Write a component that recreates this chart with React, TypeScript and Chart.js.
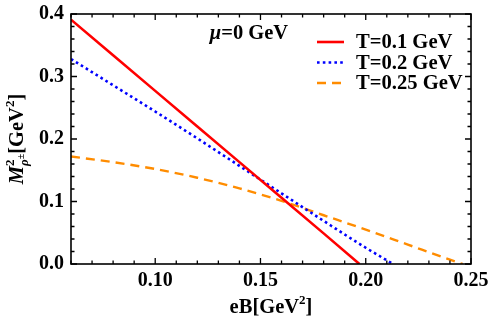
import { useEffect, useRef } from "react";
import { Chart, registerables } from "chart.js";
Chart.register(...registerables);

const EB_RED = [0.06, 0.08, 0.10, 0.12, 0.14, 0.16, 0.18, 0.197];
const M_RED = [0.391, 0.334, 0.277, 0.220, 0.163, 0.106, 0.049, 0];
const EB_BLUE = [0.06, 0.08, 0.10, 0.12, 0.14, 0.16, 0.18, 0.20, 0.213];
const M_BLUE = [0.328, 0.286, 0.244, 0.201, 0.157, 0.113, 0.069, 0.026, 0];
const EB_ORANGE = [0.06, 0.08, 0.10, 0.12, 0.14, 0.16, 0.18, 0.20, 0.22, 0.24, 0.246];
const M_ORANGE = [0.172, 0.163, 0.152, 0.138, 0.121, 0.101, 0.078, 0.055, 0.031, 0.007, 0];
const X_TICKS = [0.10, 0.15, 0.20, 0.25];
const Y_TICKS = [0, 0.1, 0.2, 0.3, 0.4];
const SERIES_LABELS = ["T=0.1 GeV", "T=0.2 GeV", "T=0.25 GeV"];

const FAMILY = '"Liberation Serif", "Times New Roman", serif';
const F = (size: number, italic = false) => `${italic ? "italic " : ""}bold ${size}px ${FAMILY}`;

type Part = { t: string; font: string; dy?: number };

function drawRich(ctx: CanvasRenderingContext2D, parts: Part[][], x: number, y: number) {
  const widths = parts.map((g) =>
    Math.max(...g.map((p) => { ctx.font = p.font; return ctx.measureText(p.t).width; }))
  );
  const total = widths.reduce((a, b) => a + b, 0);
  let cx = x - total / 2;
  ctx.textBaseline = "alphabetic";
  ctx.textAlign = "left";
  parts.forEach((g, i) => {
    g.forEach((p) => {
      ctx.font = p.font;
      ctx.fillText(p.t, cx, y + (p.dy || 0));
    });
    cx += widths[i];
  });
}

const decorPlugin = {
  id: "decor",
  afterDatasetsDraw(chart: any) {
    const ctx: CanvasRenderingContext2D = chart.ctx;
    const { left, right, top, bottom } = chart.chartArea;
    const xs = chart.scales.x;
    const ys = chart.scales.y;
    ctx.save();
    ctx.strokeStyle = "#000";
    ctx.fillStyle = "#000";
    ctx.lineWidth = 1.6;
    ctx.strokeRect(left, top, right - left, bottom - top);
    ctx.lineWidth = 1.3;
    for (let i = 6; i <= 25; i++) {
      const px = xs.getPixelForValue(i / 100);
      const len = i % 5 === 0 ? 6 : 3.5;
      ctx.beginPath();
      ctx.moveTo(px, bottom); ctx.lineTo(px, bottom - len);
      ctx.moveTo(px, top); ctx.lineTo(px, top + len);
      ctx.stroke();
    }
    for (let i = 0; i <= 20; i++) {
      const py = ys.getPixelForValue(i / 50);
      const len = i % 5 === 0 ? 6 : 3.5;
      ctx.beginPath();
      ctx.moveTo(left, py); ctx.lineTo(left + len, py);
      ctx.moveTo(right, py); ctx.lineTo(right - len, py);
      ctx.stroke();
    }
    chart.data.datasets.forEach((ds: any, i: number) => {
      const y = top + 28 + i * 20.5;
      ctx.save();
      ctx.strokeStyle = ds.borderColor;
      ctx.lineWidth = ds.borderWidth;
      ctx.setLineDash(ds.borderDash || []);
      ctx.beginPath();
      ctx.moveTo(right - 154, y);
      ctx.lineTo(right - 127, y);
      ctx.stroke();
      ctx.restore();
      ctx.font = F(20.6);
      ctx.textAlign = "left";
      ctx.textBaseline = "middle";
      ctx.fillText(ds.label, right - 115, y + 1);
    });
    drawRich(ctx, [[{ t: "μ", font: F(20.5, true) }], [{ t: "=0 GeV", font: F(20.5) }]], left + 178, top + 25);
    drawRich(
      ctx,
      [[{ t: "eB[GeV", font: F(20.5) }], [{ t: "2", font: F(13), dy: -9 }], [{ t: "]", font: F(20.5) }]],
      (left + right) / 2,
      313
    );
    ctx.save();
    ctx.translate(23, (top + bottom) / 2);
    ctx.rotate(-Math.PI / 2);
    drawRich(
      ctx,
      [
        [{ t: "M", font: F(20.5, true) }],
        [{ t: "ρ", font: F(13, true), dy: 5 }, { t: "2", font: F(13), dy: -9 }],
        [{ t: "±", font: F(10, true), dy: 1 }],
        [{ t: "[GeV", font: F(20.5) }],
        [{ t: "2", font: F(13), dy: -9 }],
        [{ t: "]", font: F(20.5) }],
      ],
      0,
      0
    );
    ctx.restore();
    ctx.restore();
  },
};

const zeroPad = (s: any) => { s.paddingTop = 0; s.paddingBottom = 0; s.paddingLeft = 0; s.paddingRight = 0; };

export default function App() {
  const ref = useRef<HTMLCanvasElement>(null);
  useEffect(() => {
    if (!ref.current) return;
    const mk = (xs: number[], ys: number[]) => xs.map((x, i) => ({ x, y: ys[i] }));
    const chart = new Chart(ref.current, {
      type: "line",
      data: {
        datasets: [
          { label: SERIES_LABELS[0], data: mk(EB_RED, M_RED), borderColor: "#ff0000", borderWidth: 2.6, pointRadius: 0, tension: 0 },
          { label: SERIES_LABELS[1], data: mk(EB_BLUE, M_BLUE), borderColor: "#0000ff", borderWidth: 2.6, borderDash: [2.6, 3.2], pointRadius: 0, cubicInterpolationMode: "monotone" },
          { label: SERIES_LABELS[2], data: mk(EB_ORANGE, M_ORANGE), borderColor: "#ff8c00", borderWidth: 2.4, borderDash: [9, 6], pointRadius: 0, cubicInterpolationMode: "monotone" },
        ] as any,
      },
      options: {
        animation: false,
        responsive: false,
        maintainAspectRatio: false,
        layout: { padding: { top: 14, right: 20, left: 0, bottom: 0 } },
        plugins: { legend: { display: false }, tooltip: { enabled: false } },
        scales: {
          x: {
            type: "linear",
            min: 0.06,
            max: 0.25,
            grid: { display: false, drawTicks: false },
            border: { display: false },
            afterBuildTicks: (s: any) => { s.ticks = X_TICKS.map((v) => ({ value: v })); },
            afterFit: (s: any) => { s.height = 63; zeroPad(s); },
            ticks: { color: "#000", font: { family: FAMILY, size: 20, weight: "bold" }, padding: 5, maxRotation: 0, callback: (v: any) => Number(v).toFixed(2) },
          },
          y: {
            type: "linear",
            min: 0,
            max: 0.4,
            grid: { display: false, drawTicks: false },
            border: { display: false },
            afterBuildTicks: (s: any) => { s.ticks = Y_TICKS.map((v) => ({ value: v })); },
            afterFit: (s: any) => { s.width = 71; zeroPad(s); },
            ticks: { color: "#000", font: { family: FAMILY, size: 20, weight: "bold" }, padding: 7, callback: (v: any) => Number(v).toFixed(1) },
          },
        },
      } as any,
      plugins: [decorPlugin],
    });
    return () => chart.destroy();
  }, []);
  return (
    <div style={{ position: "absolute", left: 0, top: 0, width: 491, height: 327, background: "#fff" }}>
      <canvas ref={ref} width={491} height={327} style={{ width: 491, height: 327, display: "block" }} />
    </div>
  );
}
